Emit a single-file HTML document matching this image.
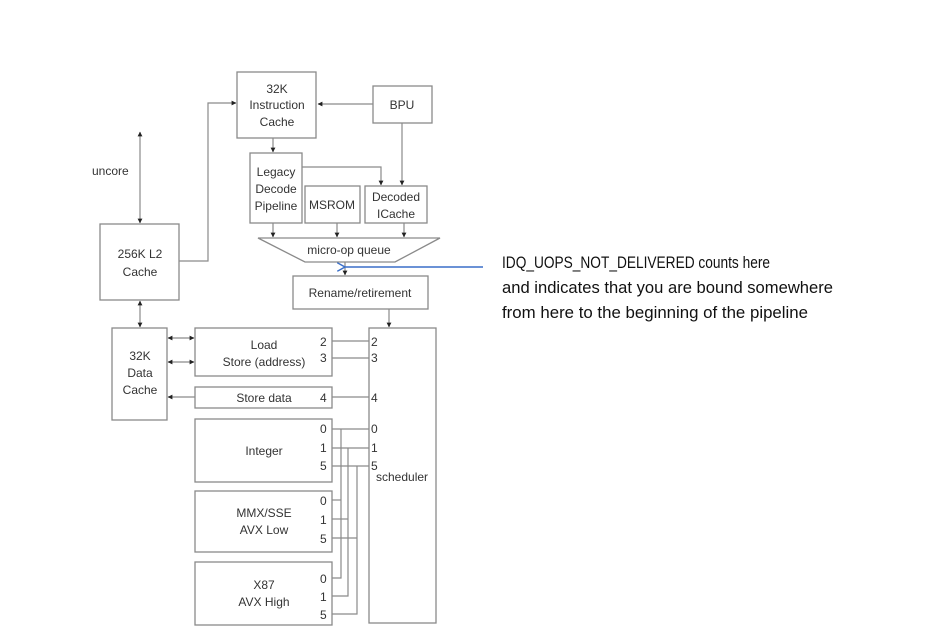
<!DOCTYPE html>
<html><head><meta charset="utf-8"><style>
html,body{margin:0;padding:0;background:#fff}
svg{display:block}
.b{fill:#fff;stroke:#8a8a8a;stroke-width:1.3}
.l{stroke:#8a8a8a;stroke-width:1.2;fill:none}
text{font-family:"Liberation Sans",Arial,sans-serif;font-size:12px;fill:#333}
.c{text-anchor:middle}
.r{font-size:17px;fill:#111}
</style></head><body>
<svg width="936" height="628" viewBox="0 0 936 628">
<defs>
<marker id="a" viewBox="0 0 6 6" refX="5.5" refY="3" markerWidth="4" markerHeight="4" orient="auto"><path d="M0,0 L6,3 L0,6z" fill="#222"/></marker>
<marker id="s" viewBox="0 0 6 6" refX="0.5" refY="3" markerWidth="4" markerHeight="4" orient="auto"><path d="M6,0 L0,3 L6,6z" fill="#222"/></marker>
<marker id="bl" viewBox="0 0 10 10" refX="1" refY="5" markerWidth="9" markerHeight="9" orient="auto" markerUnits="userSpaceOnUse"><path d="M10,0 L1,5 L10,10" fill="none" stroke="#3a6fc9" stroke-width="1.6"/></marker>
</defs>

<rect class="b" x="237" y="72" width="79" height="66"/>
<text class="c" x="277" y="93">32K</text><text class="c" x="277" y="109">Instruction</text><text class="c" x="277" y="126">Cache</text>
<rect class="b" x="373" y="86" width="59" height="37"/>
<text class="c" x="402" y="109">BPU</text>
<rect class="b" x="250" y="153" width="52" height="70"/>
<text class="c" x="276" y="176">Legacy</text><text class="c" x="276" y="193">Decode</text><text class="c" x="276" y="210">Pipeline</text>
<rect class="b" x="305" y="186" width="55" height="37"/>
<text class="c" x="332" y="209">MSROM</text>
<rect class="b" x="365" y="186" width="62" height="37"/>
<text class="c" x="396" y="201">Decoded</text><text class="c" x="396" y="218">ICache</text>
<polygon class="b" points="258,238 440,238 395,262 305,262"/>
<text class="c" x="349" y="254">micro-op queue</text>
<rect class="b" x="293" y="276" width="135" height="33"/>
<text class="c" x="360" y="297">Rename/retirement</text>
<rect class="b" x="100" y="224" width="79" height="76"/>
<text class="c" x="140" y="258">256K L2</text><text class="c" x="140" y="276">Cache</text>
<text x="92" y="175">uncore</text>
<rect class="b" x="112" y="328" width="55" height="92"/>
<text class="c" x="140" y="360">32K</text><text class="c" x="140" y="377">Data</text><text class="c" x="140" y="394">Cache</text>
<rect class="b" x="195" y="328" width="137" height="48"/>
<text class="c" x="264" y="349">Load</text><text class="c" x="264" y="366">Store (address)</text>
<text x="320" y="346">2</text><text x="320" y="362">3</text>
<rect class="b" x="195" y="387" width="137" height="21"/>
<text class="c" x="264" y="402">Store data</text><text x="320" y="402">4</text>
<rect class="b" x="195" y="419" width="137" height="63"/>
<text class="c" x="264" y="455">Integer</text>
<text x="320" y="433">0</text><text x="320" y="452">1</text><text x="320" y="470">5</text>
<rect class="b" x="195" y="491" width="137" height="61"/>
<text class="c" x="264" y="517">MMX/SSE</text><text class="c" x="264" y="534">AVX Low</text>
<text x="320" y="505">0</text><text x="320" y="524">1</text><text x="320" y="543">5</text>
<rect class="b" x="195" y="562" width="137" height="63"/>
<text class="c" x="264" y="589">X87</text><text class="c" x="264" y="606">AVX High</text>
<text x="320" y="583">0</text><text x="320" y="601">1</text><text x="320" y="619">5</text>
<rect class="b" x="369" y="328" width="67" height="295"/>
<text x="371" y="346">2</text><text x="371" y="362">3</text><text x="371" y="402">4</text>
<text x="371" y="433">0</text><text x="371" y="452">1</text><text x="371" y="470">5</text>
<text x="376" y="481">scheduler</text>

<line class="l" x1="373" y1="104" x2="318" y2="104" marker-end="url(#a)"/>
<line class="l" x1="273" y1="138" x2="273" y2="152" marker-end="url(#a)"/>
<polyline class="l" points="302,167 381,167 381,185" marker-end="url(#a)"/>
<line class="l" x1="402" y1="123" x2="402" y2="185" marker-end="url(#a)"/>
<line class="l" x1="273" y1="223" x2="273" y2="237" marker-end="url(#a)"/>
<line class="l" x1="337" y1="223" x2="337" y2="237" marker-end="url(#a)"/>
<line class="l" x1="404" y1="223" x2="404" y2="237" marker-end="url(#a)"/>
<line class="l" x1="345" y1="262" x2="345" y2="275" marker-end="url(#a)"/>
<polyline class="l" points="179,261 208,261 208,103 236,103" marker-end="url(#a)"/>
<line class="l" x1="140" y1="132" x2="140" y2="223" marker-start="url(#s)" marker-end="url(#a)"/>
<line class="l" x1="140" y1="301" x2="140" y2="327" marker-start="url(#s)" marker-end="url(#a)"/>
<line class="l" x1="389" y1="309" x2="389" y2="327" marker-end="url(#a)"/>
<line class="l" x1="168" y1="338" x2="194" y2="338" marker-start="url(#s)" marker-end="url(#a)"/>
<line class="l" x1="168" y1="362" x2="194" y2="362" marker-start="url(#s)" marker-end="url(#a)"/>
<line class="l" x1="195" y1="397" x2="168" y2="397" marker-end="url(#a)"/>
<line class="l" x1="332" y1="341" x2="369" y2="341"/>
<line class="l" x1="332" y1="358" x2="369" y2="358"/>
<line class="l" x1="332" y1="397" x2="369" y2="397"/>
<line class="l" x1="332" y1="429" x2="369" y2="429"/>
<line class="l" x1="332" y1="448" x2="369" y2="448"/>
<line class="l" x1="332" y1="466" x2="369" y2="466"/>
<polyline class="l" points="341,429 341,578 332,578"/>
<polyline class="l" points="348,448 348,596 332,596"/>
<polyline class="l" points="357,466 357,614 332,614"/>
<line class="l" x1="341" y1="500" x2="332" y2="500"/>
<line class="l" x1="348" y1="519" x2="332" y2="519"/>
<line class="l" x1="357" y1="538" x2="332" y2="538"/>

<line x1="483" y1="267" x2="345" y2="267" stroke="#3a6fc9" stroke-width="1.6" marker-end="url(#bl)"/>

<text class="r" x="502" y="268" textLength="268" lengthAdjust="spacingAndGlyphs">IDQ_UOPS_NOT_DELIVERED counts here</text>
<text class="r" x="502" y="293" textLength="331" lengthAdjust="spacingAndGlyphs">and indicates that you are bound somewhere</text>
<text class="r" x="502" y="318" textLength="306" lengthAdjust="spacingAndGlyphs">from here to the beginning of the pipeline</text>
</svg>
</body></html>
